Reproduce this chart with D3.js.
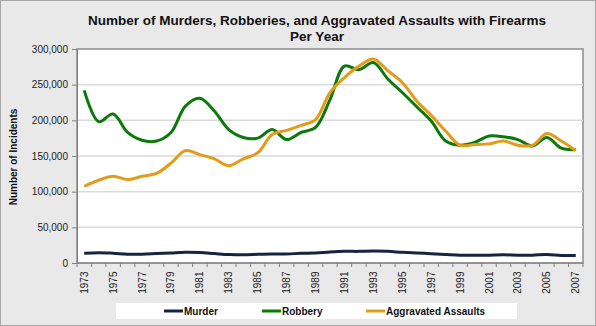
<!DOCTYPE html>
<html>
<head>
<meta charset="utf-8">
<script src="https://cdn.jsdelivr.net/npm/d3@7"></script>
<style>
  body { margin: 0; background: #fff; }
  svg { display: block; font-family: "Liberation Sans", Arial, sans-serif; }
</style>
</head>
<body>
<div id="chart"></div>
<script>
// years on the category axis
var years = d3.range(1973, 2008);

// incidents with firearms
var murder = [13.7, 14.5, 13.7, 12.4, 12.3, 13.2, 14.1, 15.0, 14.6, 13.2, 11.8, 11.7,
  12.2, 12.7, 12.7, 13.5, 14.0, 15.4, 16.3, 16.3, 16.8, 16.3, 15.0, 14.0, 13.0, 12.0,
  11.0, 10.7, 11.0, 11.5, 11.0, 11.0, 12.0, 10.6, 10.5].map(function(v) { return v * 1000; });

var robbery = [242, 198, 209, 183, 172, 171, 183, 220, 231, 213, 187, 176,
  175, 187, 173, 183, 190, 229, 276, 271, 281, 258, 239, 219, 199, 171,
  165, 169, 178, 177, 173, 164, 176, 161, 159].map(function(v) { return v * 1000; });

var assault = [107.5, 116, 121.5, 117, 121.5, 125.5, 140, 157.5, 152, 146, 136.5, 146,
  154.5, 180, 186, 193, 201, 239, 260, 276, 286, 269.5, 253, 227, 207, 185,
  165, 166, 167, 171, 165, 165, 181.5, 171, 157.5].map(function(v) { return v * 1000; });

var yTicks = [0, 50000, 100000, 150000, 200000, 250000, 300000];

var series = [
  { name: "Murder", values: murder, color: "#172440" },
  { name: "Robbery", values: robbery, color: "#0b7a0b" },
  { name: "Aggravated Assaults", values: assault, color: "#e39b19" }
];

var W = 596, H = 326;
var plot = { left: 77, right: 583, top: 49, bottom: 263 };

var svg = d3.select("#chart").append("svg")
  .attr("width", W).attr("height", H);

// chart background and frame
svg.append("rect")
  .attr("x", 0.5).attr("y", 0.5).attr("width", W - 1).attr("height", H - 1)
  .attr("fill", "#e9e9e9").attr("stroke", "#a6a6a6");

svg.append("rect")
  .attr("x", plot.left).attr("y", plot.top)
  .attr("width", plot.right - plot.left).attr("height", plot.bottom - plot.top)
  .attr("fill", "#fff").attr("stroke", "#8c8c8c").attr("stroke-width", 1.5);

var x = d3.scaleBand().domain(years).range([plot.left, plot.right]);
var y = d3.scaleLinear().domain([0, 300000]).range([plot.bottom, plot.top]);

// gridlines
svg.append("g").selectAll("line")
  .data(yTicks.filter(function(d) { return d > 0 && d < 300000; }))
  .enter().append("line")
  .attr("x1", plot.left).attr("x2", plot.right)
  .attr("y1", function(d) { return y(d); }).attr("y2", function(d) { return y(d); })
  .attr("stroke", "#d9d9d9").attr("stroke-width", 1.5);

// y axis
var yAxis = svg.append("g")
  .attr("transform", "translate(" + plot.left + ",0)")
  .call(d3.axisLeft(y).tickValues(yTicks).tickFormat(d3.format(",")).tickSize(5).tickPadding(4));
yAxis.select(".domain").attr("stroke", "#808080");
yAxis.selectAll(".tick line").attr("stroke", "#808080");
yAxis.selectAll("text").attr("font-size", 10).attr("fill", "#222")
  .attr("font-family", "'Liberation Sans', Arial, sans-serif");

// x axis: ticks on band edges, labels every other year
var xg = svg.append("g").attr("transform", "translate(0," + plot.bottom + ")");
xg.append("line").attr("x1", plot.left).attr("x2", plot.right)
  .attr("stroke", "#808080");
xg.selectAll(".edge")
  .data(years.concat([2008]))
  .enter().append("line")
  .attr("class", "edge")
  .attr("x1", function(d) { return d === 2008 ? plot.right : x(d); })
  .attr("x2", function(d) { return d === 2008 ? plot.right : x(d); })
  .attr("y1", 0).attr("y2", 4)
  .attr("stroke", "#808080");
xg.selectAll(".lbl")
  .data(years.filter(function(d) { return (d - 1973) % 2 === 0; }))
  .enter().append("text")
  .attr("class", "lbl")
  .attr("transform", function(d) {
    return "translate(" + (x(d) + x.bandwidth() / 2 + 3.5) + ",8.5) rotate(-90)";
  })
  .attr("text-anchor", "end")
  .attr("font-size", 10).attr("fill", "#222")
  .text(function(d) { return d; });

// lines
var line = d3.line()
  .x(function(d, i) { return x(years[i]) + x.bandwidth() / 2; })
  .y(function(d) { return y(d); })
  .curve(d3.curveCatmullRom.alpha(0.5));

svg.append("g").selectAll("path")
  .data(series)
  .enter().append("path")
  .attr("d", function(s) { return line(s.values); })
  .attr("fill", "none")
  .attr("stroke", function(s) { return s.color; })
  .attr("stroke-width", 3)
  .attr("stroke-linejoin", "round");

// title
var title = svg.append("text")
  .attr("text-anchor", "middle")
  .attr("font-size", 13.5).attr("font-weight", "bold").attr("fill", "#111");
title.append("tspan").attr("x", 317).attr("y", 25)
  .text("Number of Murders, Robberies, and Aggravated Assaults with Firearms");
title.append("tspan").attr("x", 317).attr("y", 41).text("Per Year");

// y axis title
svg.append("text")
  .attr("transform", "translate(17,157) rotate(-90)")
  .attr("text-anchor", "middle")
  .attr("font-size", 10).attr("font-weight", "bold").attr("fill", "#111")
  .text("Number of Incidents");

// legend
svg.append("rect")
  .attr("x", 116).attr("y", 303).attr("width", 401).attr("height", 16)
  .attr("fill", "#fff");
var legX = [164, 262, 366];
var leg = svg.append("g").selectAll("g")
  .data(series)
  .enter().append("g")
  .attr("transform", function(s, i) { return "translate(" + legX[i] + ",311)"; });
leg.append("line")
  .attr("x1", 0).attr("x2", 19)
  .attr("stroke", function(s) { return s.color; })
  .attr("stroke-width", 3);
leg.append("text")
  .attr("x", 20).attr("y", 3.5)
  .attr("font-size", 10).attr("font-weight", "bold").attr("fill", "#111")
  .text(function(s) { return s.name; });
</script>
</body>
</html>
